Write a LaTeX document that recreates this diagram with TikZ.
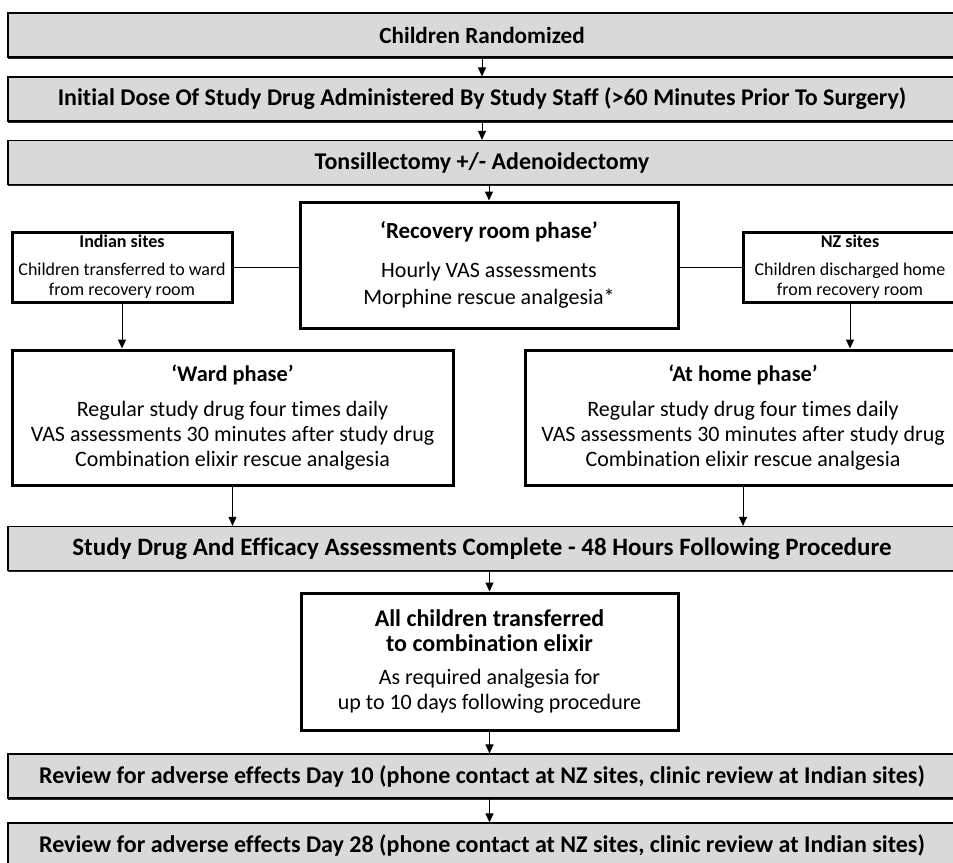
\documentclass[tikz,border=0pt]{standalone}
\usepackage{fontspec}
\setmainfont{Carlito}[Ligatures=NoCommon]
\usetikzlibrary{positioning,arrows.meta,shadows}

\begin{document}
\begin{tikzpicture}[x=0.5pt, y=-0.5pt, >={Triangle[width=4pt,length=4.5pt]},
    graybox/.style={draw, line width=0.6pt, fill=black!15, minimum width=474pt, minimum height=22pt,
      font=\bfseries\fontsize{12}{14}\selectfont,
      drop shadow={shadow xshift=0pt, shadow yshift=-0.9pt, fill=black!85, opacity=1}},
    phasebox/.style={draw, line width=1.5pt, fill=white, align=center, font=\fontsize{11}{12.5}\selectfont},
    sitebox/.style={draw, line width=1.5pt, fill=white, align=center, minimum width=110pt, minimum height=35pt,
      inner sep=1pt, font=\fontsize{9}{10}\selectfont},
    link/.style={line width=0.5pt}]
  \useasboundingbox (0,0) rectangle (953,862);
  % central column
  \node[graybox, font=\bfseries\fontsize{11.6}{14}\selectfont] (randomized) at (482,35) {Children Randomized};
  \node[graybox] (initialdose) at (482,99) {Initial Dose Of Study Drug Administered By Study Staff (>60 Minutes Prior To Surgery)};
  \node[graybox] (surgery) at (482,162.5) {Tonsillectomy +/- Adenoidectomy};
  \node[phasebox, minimum width=189pt, minimum height=63pt] (recovery) at (489,265)
    {\bfseries\fontsize{11.5}{14}\selectfont ‘Recovery room phase’\\[7pt]
     Hourly VAS assessments\\[1.2pt] Morphine rescue analgesia*};
  % site boxes
  \node[sitebox] (indian) at (122,267)
    {\textbf{Indian sites}\\[4pt] Children transferred to ward\\ from recovery room};
  \node[sitebox, minimum width=107pt] (nz) at (850,267)
    {\textbf{NZ sites}\\[4pt] Children discharged home\\ from recovery room};
  % phases
  \node[phasebox, minimum width=220.5pt, minimum height=67.5pt] (ward) at (232.5,417.5)
    {\bfseries\fontsize{11.2}{14}\selectfont ‘Ward phase’\\[5pt]
     Regular study drug four times daily\\ VAS assessments 30 minutes after study drug\\ Combination elixir rescue analgesia};
  \node[phasebox, minimum width=218pt, minimum height=67.5pt] (home) at (743,417.5)
    {\bfseries\fontsize{11.2}{14}\selectfont ‘At home phase’\\[5pt]
     Regular study drug four times daily\\ VAS assessments 30 minutes after study drug\\ Combination elixir rescue analgesia};
  \node[graybox, font=\bfseries\fontsize{12.5}{14}\selectfont] (complete) at (482,548.5) {Study Drug And Efficacy Assessments Complete - 48 Hours Following Procedure};
  \node[phasebox, minimum width=188.5pt, minimum height=68.5pt] (elixir) at (489.5,661.5)
    {\bfseries\fontsize{12}{14}\selectfont All children transferred\\
     \bfseries\fontsize{12}{14}\selectfont to combination elixir\\[4pt]
     As required analgesia for\\ up to 10 days following procedure};
  \node[graybox] (day10) at (482,776) {Review for adverse effects Day 10 (phone contact at NZ sites, clinic review at Indian sites)};
  \node[graybox] (day28) at (482,845) {Review for adverse effects Day 28 (phone contact at NZ sites, clinic review at Indian sites)};
  % connectors
  \draw[->, link] (randomized) -- (initialdose);
  \draw[->, link] (initialdose) -- (surgery);
  \draw[->, link] (surgery.south -| recovery.north) -- (recovery.north);
  \draw[link] (indian.east) -- (indian.east -| recovery.west);
  \draw[link] (recovery.east |- nz.west) -- (nz.west);
  \draw[->, link] (indian.south) -- (indian.south |- ward.north);
  \draw[->, link] (nz.south) -- (nz.south |- home.north);
  \draw[->, link] (ward.south) -- (ward.south |- complete.north);
  \draw[->, link] (home.south) -- (home.south |- complete.north);
  \draw[->, link] (complete.south -| elixir.north) -- (elixir.north);
  \draw[->, link] (elixir.south) -- (elixir.south |- day10.north);
  \draw[->, link] (day10.south -| elixir.south) -- (day28.north -| elixir.south);
\end{tikzpicture}
\end{document}
